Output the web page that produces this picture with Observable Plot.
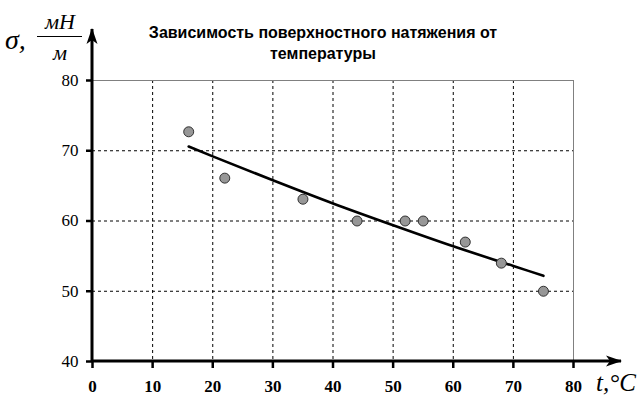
<!DOCTYPE html>
<html><head><meta charset="utf-8">
<script src="https://cdn.jsdelivr.net/npm/d3@7"></script>
<script src="https://cdn.jsdelivr.net/npm/@observablehq/plot@0.6"></script>
<style>
body{margin:0;background:#fff;}
#wrap{position:relative;width:644px;height:409px;}
.title{position:absolute;left:0;top:22px;width:646px;text-align:center;font:bold 16px "Liberation Sans",Arial,sans-serif;line-height:21px;color:#000;}
.lab{position:absolute;font-family:"Liberation Serif","Times New Roman",serif;font-style:italic;color:#000;}
</style>
</head><body>
<div id="wrap"></div>
<script>
const titleLines = ["Зависимость поверхностного натяжения от", "температуры"];
const tempC = [16, 22, 35, 44, 52, 55, 62, 68, 75];
const sigma = [72.7, 66.1, 63.1, 60, 60, 60, 57, 54, 50];
const trendT = [16, 20, 30, 40, 50, 60, 70, 75];
const trendS = [70.6, 69.2, 65.8, 62.5, 59.4, 56.4, 53.6, 52.2];
const xTicks = [0, 10, 20, 30, 40, 50, 60, 70, 80];
const yTicks = [40, 50, 60, 70, 80];
const gridX = [10, 20, 30, 40, 50, 60, 70];
const gridY = [50, 60, 70];

const serif = "Liberation Serif";
const pts = tempC.map((t, i) => ({t, s: sigma[i]}));
const trend = trendT.map((t, i) => ({t, s: trendS[i]}));

const chart = Plot.plot({
  width: 644, height: 409,
  marginLeft: 92, marginRight: 71, marginTop: 80, marginBottom: 48,
  style: {background: "#fff", overflow: "visible"},
  x: {domain: [0, 80]},
  y: {domain: [40, 80]},
  marks: [
    Plot.gridX(gridX, {stroke: "#000", strokeOpacity: 1, strokeDasharray: "3,3", strokeWidth: 1}),
    Plot.gridY(gridY, {stroke: "#000", strokeOpacity: 1, strokeDasharray: "3,3", strokeWidth: 1}),
    Plot.ruleY([yTicks[yTicks.length - 1]], {stroke: "#808080", strokeWidth: 1}),
    Plot.ruleX([xTicks[xTicks.length - 1]], {stroke: "#808080", strokeWidth: 1}),
    Plot.axisY({ticks: yTicks, tickSize: 6, strokeWidth: 2.5, tickFormat: () => "", label: null, color: "#000"}),
    Plot.axisX({ticks: xTicks, tickSize: 7, strokeWidth: 2.5, tickFormat: () => "", label: null, color: "#000"}),
    Plot.text(yTicks, {y: d => d, frameAnchor: "left", dx: -14, textAnchor: "end", fontFamily: serif, fontSize: 17, fill: "#000"}),
    Plot.text(xTicks, {x: d => d, frameAnchor: "bottom", dy: 30, fontFamily: serif, fontSize: 17, fontWeight: "bold", fill: "#000"}),
    Plot.line(trend, {x: "t", y: "s", stroke: "#000", strokeWidth: 2.6, curve: "monotone-x"}),
    Plot.dot(pts, {x: "t", y: "s", r: 5, fill: "#979797", stroke: "#222", strokeWidth: 0.9})
  ]
});

// axis lines with arrowheads, positioned from the Plot scales
const svg = d3.select(chart);
const sx = chart.scale("x"), sy = chart.scale("y");
const x0 = sx.apply(xTicks[0]), xEnd = sx.apply(xTicks[xTicks.length - 1]);
const y0 = sy.apply(yTicks[0]), yEnd = sy.apply(yTicks[yTicks.length - 1]);
const defs = svg.insert("defs", ":first-child");
defs.append("marker").attr("id", "axArrow").attr("markerUnits", "userSpaceOnUse")
  .attr("viewBox", "-16 -6 18 12").attr("markerWidth", 18).attr("markerHeight", 12)
  .attr("refX", 0).attr("refY", 0).attr("orient", "auto")
  .append("path").attr("d", "M1,0 L-15,-5.5 L-11,0 L-15,5.5 Z").attr("fill", "#000");
const ax = svg.append("g").attr("aria-label", "axis-lines");
ax.append("line").attr("x1", x0).attr("y1", y0).attr("x2", x0).attr("y2", yEnd - 51)
  .attr("stroke", "#000").attr("stroke-width", 3).attr("marker-end", "url(#axArrow)");
ax.append("line").attr("x1", x0).attr("y1", y0).attr("x2", xEnd + 48).attr("y2", y0)
  .attr("stroke", "#000").attr("stroke-width", 3).attr("marker-end", "url(#axArrow)");

const wrap = document.getElementById("wrap");
wrap.appendChild(chart);
chart.style.position = "absolute"; chart.style.left = "0"; chart.style.top = "0";

const title = document.createElement("div");
title.className = "title";
title.innerHTML = titleLines.join("<br>");
wrap.appendChild(title);

const ylab = document.createElement("div");
ylab.className = "lab";
ylab.style.left = "5px"; ylab.style.top = "9px";
ylab.innerHTML = '<span style="position:absolute;left:0;top:15px;font-size:28px;white-space:nowrap">σ,</span>' +
  '<span style="position:absolute;left:33px;top:0;width:44px;text-align:center;font-size:22px;line-height:26px;">мН</span>' +
  '<span style="position:absolute;left:32px;top:27px;width:45px;height:0;border-top:1.3px solid #000"></span>' +
  '<span style="position:absolute;left:33px;top:31px;width:44px;text-align:center;font-size:22px;line-height:26px;">м</span>';
wrap.appendChild(ylab);

const xlab = document.createElement("div");
xlab.className = "lab";
xlab.style.left = "596px"; xlab.style.top = "369px";
xlab.style.fontSize = "25px"; xlab.style.whiteSpace = "nowrap";
xlab.textContent = "t,°C";
wrap.appendChild(xlab);
</script>
</body></html>
